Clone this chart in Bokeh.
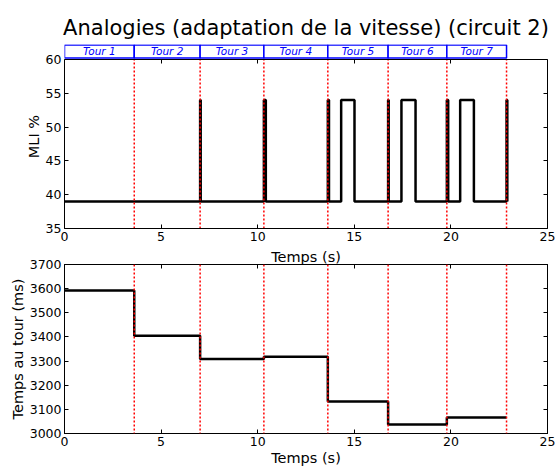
from bokeh.plotting import figure
from bokeh.layouts import column
from bokeh.models import Range1d, Span, FixedTicker, LinearAxis, ColumnDataSource
from bokeh.core.properties import value
from bokeh.embed import file_html
from bokeh.resources import INLINE

# ---- data ----
lap_names = ["Tour 1", "Tour 2", "Tour 3", "Tour 4", "Tour 5", "Tour 6", "Tour 7"]
lap_ends = [3.61, 7.02, 10.32, 13.63, 16.75, 19.79, 22.88]
lap_times = [3592, 3405, 3309, 3318, 3133, 3037, 3066]

mli_t = [0, 7.02, 7.05, 10.32, 10.42, 13.63, 13.69, 14.32, 15.01, 16.75, 16.78,
         17.44, 18.17, 19.79, 19.86, 20.48, 21.19, 22.88, 22.92]
mli_v = [39, 54, 39, 54, 39, 54, 39, 54, 39, 54, 39, 54, 39, 54, 39, 54, 39, 54, 39]

x_ticks = [0, 5, 10, 15, 20, 25]
mli_ticks = [35, 40, 45, 50, 55, 60]
lap_ticks = [3000, 3100, 3200, 3300, 3400, 3500, 3600, 3700]

FONT = "DejaVu Sans"
ML, MR = 64, 10
FW = 483
MLI_MIN, MLI_MAX = 35, 60
HDR_BOT, HDR_TOP, HDR_END = 60.22, 62.12, 62.2

lap_starts = [0] + lap_ends[:-1]


def base_axis(ax):
    ax.major_tick_in = 4
    ax.major_tick_out = 0
    ax.minor_tick_line_color = None
    ax.axis_line_color = "black"
    ax.major_tick_line_color = "black"
    ax.major_label_text_font = FONT
    ax.major_label_text_font_size = "12.5px"
    ax.major_label_text_color = "black"
    ax.axis_label_text_font = FONT
    ax.axis_label_text_font_size = "14.5px"
    ax.axis_label_text_font_style = "normal"
    ax.axis_label_text_color = "black"
    ax.major_label_standoff = 3
    ax.axis_label_standoff = 1


def mirror_axis(ticks, **kw):
    return LinearAxis(ticker=FixedTicker(ticks=ticks), major_tick_in=4, major_tick_out=0,
                      minor_tick_line_color=None, major_label_text_font_size="1px",
                      major_label_text_color=None, major_label_standoff=0,
                      axis_line_color="black", **kw)


# ---- top: title, lap header and MLI ----
p1 = figure(frame_width=FW, frame_height=184, output_backend="svg", toolbar_location=None,
            x_range=Range1d(0, 25), y_range=Range1d(MLI_MIN, HDR_END),
            min_border_left=ML, min_border_right=MR, min_border_top=44, min_border_bottom=18,
            y_axis_label="MLI %",
            title="Analogies (adaptation de la vitesse) (circuit 2)")
p1.title.text_font = FONT
p1.title.text_font_size = "21px"
p1.title.text_font_style = "normal"
p1.title.align = "center"
p1.title.text_color = "black"
p1.title.standoff = 10
p1.grid.grid_line_color = None
p1.outline_line_color = None
p1.border_fill_color = "white"
for ax in p1.xaxis + p1.yaxis:
    base_axis(ax)
p1.xaxis.ticker = FixedTicker(ticks=x_ticks)
p1.yaxis.ticker = FixedTicker(ticks=mli_ticks)
p1.yaxis.bounds = (MLI_MIN, MLI_MAX)
p1.add_layout(mirror_axis(mli_ticks, bounds=(MLI_MIN, MLI_MAX)), "right")
p1.add_layout(mirror_axis(x_ticks, fixed_location=MLI_MAX), "above")

src = ColumnDataSource(dict(left=lap_starts, right=lap_ends,
                            mid=[(a + b) / 2 for a, b in zip(lap_starts, lap_ends)],
                            name=lap_names))
p1.quad(left="left", right="right", bottom=HDR_BOT, top=HDR_TOP, source=src,
        fill_color="white", line_color="#0000ff", line_width=1.5)
p1.text(x="mid", y=(HDR_BOT + HDR_TOP) / 2, text="name", source=src, text_align="center",
        text_baseline="middle", text_font=value(FONT), text_font_size="10.5px",
        text_font_style="italic", text_color="#0000ff")
p1.step(mli_t, mli_v, mode="after", line_color="black", line_width=2.5)
p1.segment(x0=lap_ends, y0=MLI_MIN, x1=lap_ends, y1=MLI_MAX, line_color="#ff0000",
           line_dash="2 2", line_width=1.5)

# ---- bottom: lap time ----
p2 = figure(frame_width=FW, frame_height=169, output_backend="svg", toolbar_location=None,
            x_range=Range1d(0, 25), y_range=Range1d(3000, 3700),
            min_border_left=ML, min_border_right=MR, min_border_top=17, min_border_bottom=37,
            x_axis_label="Temps (s)", y_axis_label="Temps au tour (ms)",
            title="Temps (s)")
p2.title.text_font = FONT
p2.title.text_font_size = "14.5px"
p2.title.text_font_style = "normal"
p2.title.align = "center"
p2.title.text_color = "black"
p2.title.standoff = 0
p2.grid.grid_line_color = None
p2.outline_line_color = "black"
p2.border_fill_color = "white"
for ax in p2.xaxis + p2.yaxis:
    base_axis(ax)
p2.xaxis.ticker = FixedTicker(ticks=x_ticks)
p2.yaxis.ticker = FixedTicker(ticks=lap_ticks)
p2.add_layout(mirror_axis(lap_ticks), "right")
p2.add_layout(mirror_axis(x_ticks), "above")
p2.step(lap_starts + [lap_ends[-1]], lap_times + [lap_times[-1]], mode="after",
        line_color="black", line_width=2.5)
for x in lap_ends:
    p2.add_layout(Span(location=x, dimension="height", line_color="#ff0000",
                       line_dash="2 2", line_width=1.5))

layout = column(p1, p2, spacing=0)
open("out.html", "w").write(file_html(layout, INLINE))
